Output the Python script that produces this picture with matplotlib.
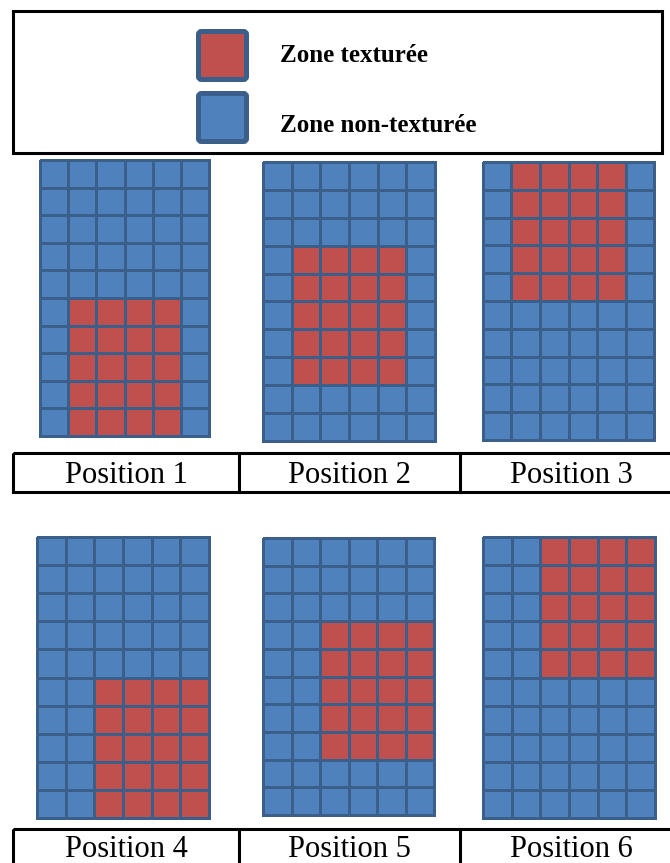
import numpy as np
import matplotlib
matplotlib.use('Agg')
import matplotlib.pyplot as plt
from matplotlib.colors import ListedColormap
from matplotlib.patches import FancyBboxPatch, Rectangle

# data
positions = ['Position 1', 'Position 2', 'Position 3',
             'Position 4', 'Position 5', 'Position 6']
red_row_start = [5, 3, 0, 5, 3, 0]
red_col_start = [1, 1, 1, 2, 2, 2]
n_rows, n_cols = 10, 6
block_rows, block_cols = 5, 4
legend_labels = ['Zone texturée', 'Zone non-texturée']

BLUE = '#4F81BD'
RED = '#C0504D'
EDGE = '#3A5F8B'
W, H = 670, 863


def pix_axes(fig, left, top, right, bottom):
    """
    Adds an axes placed by pixel bounds (origin at the top left).
    """
    return fig.add_axes([left / W, 1 - bottom / H, (right - left) / W, (bottom - top) / H])


def build_mask(r0, c0):
    mask = np.zeros((n_rows, n_cols))
    mask[r0:r0 + block_rows, c0:c0 + block_cols] = 1
    return mask


def draw_grid(ax, mask):
    """
    Draws one 6x10 grid of cells, red where the zone is textured.
    """
    ax.pcolormesh(mask, cmap=ListedColormap([BLUE, RED]), vmin=0, vmax=1,
                  edgecolors=EDGE, linewidth=1.8, clip_on=False)
    ax.set_xlim(0, n_cols)
    ax.set_ylim(n_rows, 0)
    ax.axis('off')


fig = plt.figure(figsize=(W / 100, H / 100), dpi=100)

# overlay in pixel coordinates for legend and label tables
over = fig.add_axes([0, 0, 1, 1])
over.set_xlim(0, W)
over.set_ylim(H, 0)
over.axis('off')

# legend box
over.add_patch(Rectangle((13, 11), 649, 142, fill=False, edgecolor='black', linewidth=2.2))
for (y0, color, label, base) in [(31.5, RED, legend_labels[0], 62),
                                 (93.5, BLUE, legend_labels[1], 132)]:
    over.add_patch(FancyBboxPatch((198.5, y0), 48, 48,
                                  boxstyle='round,pad=0,rounding_size=3',
                                  facecolor=color, edgecolor=EDGE, linewidth=3.6))
    over.text(280, base, label, fontsize=18, fontweight='bold',
              family='Liberation Serif', va='baseline', ha='left')

# grids
grid_boxes = [(40, 160, 209, 436), (263, 162, 435, 441), (483, 162, 654, 440),
              (37, 537, 209, 818), (263, 538, 434, 815), (483, 537, 655, 818)]
for box, r0, c0 in zip(grid_boxes, red_row_start, red_col_start):
    ax = pix_axes(fig, *box)
    draw_grid(ax, build_mask(r0, c0))

# label tables
cols = [13, 239, 460, 682]
for row, (top, bottom, base) in enumerate([(453, 492, 483), (829, 868, 857)]):
    over.add_patch(Rectangle((cols[0], top), cols[-1] - cols[0], bottom - top,
                             fill=False, edgecolor='black', linewidth=2.2, clip_on=True))
    for x in cols[1:-1]:
        over.plot([x, x], [top, bottom], color='black', linewidth=2.2)
    for i in range(3):
        over.text((cols[i] + cols[i + 1]) / 2, base, positions[row * 3 + i],
                  fontsize=22, family='Liberation Serif', ha='center', va='baseline')

fig.savefig('out.png', dpi=100)
plt.close(fig)
